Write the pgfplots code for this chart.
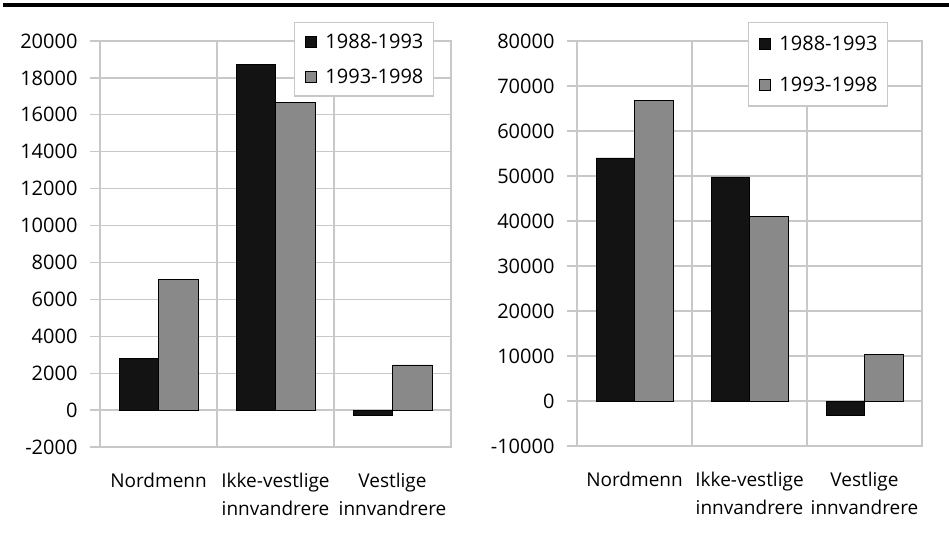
\documentclass[border=0pt]{standalone}
\usepackage{fontspec}
\setmainfont{Open Sans}
\usepackage{pgfplots}
\pgfplotsset{compat=1.18}
\definecolor{gridc}{RGB}{200,200,200}
\definecolor{barblack}{RGB}{19,19,19}
\definecolor{bargray}{RGB}{137,137,137}
\newcommand\lblfont{\fontsize{19}{28}\selectfont}
\newcommand\numfont{\fontsize{20}{24}\selectfont}

\pgfplotsset{
 panel/.style={
  scale only axis,
  ybar=0pt,
  xmin=-0.5, xmax=2.5,
  xtick={0,1,2},
  xticklabels={Nordmenn, {Ikke-vestlige\\innvandrere}, {Vestlige\\innvandrere}},
  minor xtick={-0.5,0.5,1.5,2.5},
  xminorgrids, ymajorgrids,
  grid style={gridc, line width=1.3pt},
  minor grid style={gridc, line width=1.3pt},
  major grid style={gridc, line width=1.3pt},
  axis line style={gridc, line width=1.3pt},
  xtick style={draw=none},
  ytick style={gridc, line width=1.3pt},
  tick align=outside, ytick pos=left, xtick pos=left,
  major tick length=10pt,
  yticklabel style={font=\numfont, xshift=-9pt},
  xticklabel style={font=\lblfont, align=center, yshift=-13pt},
  /pgf/number format/assume math mode=true,
  /pgf/number format/1000 sep={},
  scaled y ticks=false,
  legend cell align=left,
  legend image code/.code={\draw[##1] (0pt,-5.5pt) rectangle (11pt,5.5pt);},
  legend style={draw=gridc, line width=1.3pt, fill=white, font=\numfont,
    anchor=north west, inner xsep=10pt, column sep=9pt,
    nodes={inner sep=0pt}},
 },
 s1/.style={fill=barblack, draw=black, line width=0.7pt},
 s2/.style={fill=bargray, draw=black, line width=0.7pt},
}

\begin{document}
\begin{tikzpicture}
\useasboundingbox (0pt,0pt) rectangle (949pt,535pt);
\draw[black, line width=4pt] (3pt,530pt) -- (949pt,530pt);

\begin{axis}[panel, at={(100pt,88pt)}, anchor=south west,
  width=351pt, height=406pt,
  ymin=-2000, ymax=20000, ytick distance=2000,
  bar width=39.5pt,
  legend style={at={(0.553,1.047)}, inner ysep=11pt, row sep=19.5pt}]
\addplot[s1] coordinates {(0,2800) (1,18750) (2,-300)};
\addplot[s2] coordinates {(0,7100) (1,16650) (2,2450)};
\legend{1988-1993,1993-1998}
\end{axis}

\begin{axis}[panel, at={(577pt,89pt)}, anchor=south west,
  width=345pt, height=405pt,
  ymin=-10000, ymax=80000, ytick distance=10000,
  bar width=38.5pt,
  legend style={at={(0.496,1.047)}, inner ysep=13pt, row sep=25.5pt}]
\addplot[s1] coordinates {(0,54000) (1,49800) (2,-3200)};
\addplot[s2] coordinates {(0,66800) (1,41000) (2,10400)};
\legend{1988-1993,1993-1998}
\end{axis}
\end{tikzpicture}
\end{document}
